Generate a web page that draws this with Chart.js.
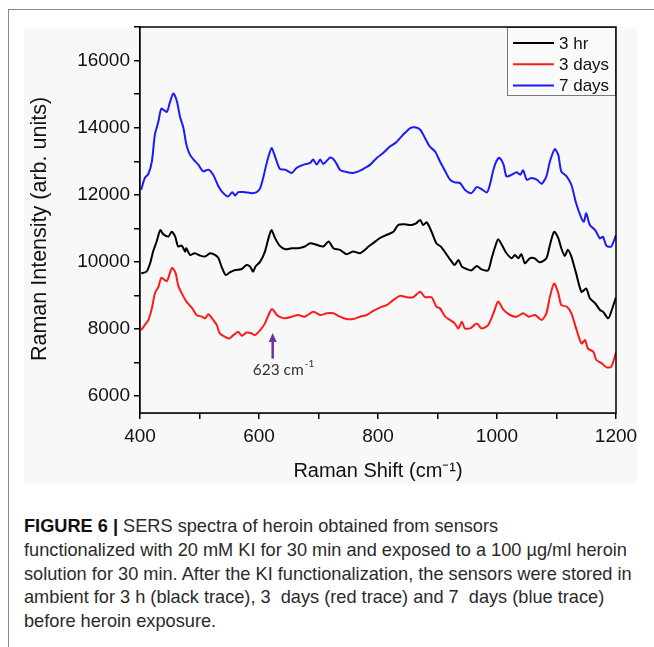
<!DOCTYPE html>
<html>
<head>
<meta charset="utf-8">
<script src="https://cdn.jsdelivr.net/npm/chart.js@4.4.1/dist/chart.umd.min.js"></script>
<style>
  html, body { margin:0; padding:0; background:#fff; }
  body { width:654px; height:647px; position:relative; overflow:hidden; }
  #topline { position:absolute; left:8px; top:9px; width:646px; height:0; border-top:1.5px solid #8a8a8a; }
  #leftline { position:absolute; left:8px; top:9px; width:0; height:638px; border-left:1.5px solid #8a8a8a; }
  #panel { position:absolute; left:24px; top:27px; width:613px; height:457px; background:#f8f8f8; }
  #wrap { position:absolute; left:24px; top:17px; width:613px; height:467px; }
  #caption { position:absolute; left:24px; top:515px; width:628px; font-family:"Liberation Sans", Arial, sans-serif; font-size:18.2px; line-height:23.8px; color:#2a2a2a; white-space:nowrap; }
  #caption b { color:#111; }
</style>
</head>
<body>
<div id="topline"></div>
<div id="leftline"></div>
<div id="panel"></div>
<div id="wrap"><canvas id="c"></canvas></div>
<div id="caption"><b>FIGURE 6 |</b> SERS spectra of heroin obtained from sensors<br>functionalized with 20 mM KI for 30 min and exposed to a 100 µg/ml heroin<br>solution for 30 min. After the KI functionalization, the sensors were stored in<br>ambient for 3 h (black trace), 3&nbsp; days (red trace) and 7&nbsp; days (blue trace)<br>before heroin exposure.</div>
<script>
// ---- data (Raman shift in cm-1, intensity in arb. units) ----
const seriesNames = ["3 hr", "3 days", "7 days"];
const seriesColors = ["#000000", "#ff1a1a", "#1a1aff"];

const shift3hr = [402,411,417,422,428,434,439,448,453,459,464,470,476,478,484,492,501,509,518,526,532,537,544,551,560,571,579,585,590,594,602,610,616,621,627,635,644,655,666,677,686,697,708,717,725,736,747,758,770,778,784,792,803,815,826,834,845,856,864,871,876,882,890,898,906,915,921,929,935,941,950,957,966,974,985,991,997,1002,1008,1016,1025,1030,1036,1041,1047,1055,1063,1072,1083,1089,1096,1103,1108,1114,1119,1125,1133,1142,1150,1156,1165,1173,1178,1187,1192,1200];
const int3hr = [9660,9710,9960,10310,10610,10950,10830,10760,10900,10760,10460,10490,10310,10410,10210,10260,10190,10160,10260,10210,10110,9860,9610,9690,9760,9790,9910,9860,9710,9860,10010,10310,10710,10950,10710,10480,10380,10410,10410,10460,10560,10510,10460,10610,10410,10360,10230,10310,10260,10360,10460,10560,10710,10810,10900,11100,11120,11100,11150,11250,11100,11180,10900,10560,10450,10230,10080,9910,10060,9860,9780,9750,9880,9780,9750,10110,10460,10680,10510,10260,10110,10210,10110,10230,9960,10110,10110,9990,10110,10510,10900,10710,10410,10180,10360,10160,9660,9110,9210,8920,8770,8570,8520,8320,8520,8950];

const shift3days = [402,408,414,420,425,431,436,445,450,454,460,464,470,478,487,495,504,509,515,521,529,534,543,550,557,565,571,579,588,593,602,610,616,622,630,638,644,655,666,677,691,703,714,725,736,747,758,770,781,792,803,815,826,837,848,859,871,879,890,898,904,913,921,929,935,941,946,955,966,974,985,994,1002,1011,1022,1033,1044,1053,1064,1075,1083,1089,1096,1103,1108,1117,1125,1133,1142,1148,1153,1162,1167,1176,1184,1192,1200];
const int3days = [7970,8120,8270,8620,9070,9260,9530,9430,9660,9830,9660,9310,9070,8820,8640,8420,8370,8320,8440,8320,8120,7870,7770,7720,7820,7920,7800,7900,7870,7820,7970,8170,8420,8600,8420,8340,8320,8370,8420,8370,8520,8420,8470,8470,8370,8300,8300,8370,8420,8540,8640,8720,8870,8990,8950,8950,9110,8950,8950,8670,8620,8370,8270,8170,8020,8220,8020,8020,8170,8020,8120,8470,8820,8570,8420,8370,8470,8370,8420,8270,8470,8970,9360,9070,8720,8670,8470,8020,7570,7670,7420,7320,7080,6980,6860,6880,7300];

const shift7days = [402,408,414,420,425,431,436,445,450,456,462,467,473,478,484,490,498,506,515,523,532,540,548,555,560,565,576,588,596,602,607,613,621,627,635,644,655,663,675,686,691,697,703,708,720,728,736,747,758,770,778,787,798,809,820,829,837,845,854,862,871,879,887,896,904,913,921,929,938,946,957,966,974,983,988,994,999,1004,1011,1016,1025,1033,1039,1044,1050,1058,1067,1075,1083,1089,1097,1103,1108,1117,1125,1133,1142,1146,1150,1156,1165,1173,1178,1184,1192,1200];
const int7days = [12150,12500,12620,13000,13790,14190,14570,14470,14740,15020,14790,14340,13990,13490,13190,13050,12900,12700,12750,12600,12250,12050,11950,12080,11980,12080,12080,12050,12080,12200,12500,12950,13390,13140,12770,12750,12650,12800,12900,12950,13050,12900,13050,12920,13110,13000,12750,12680,12650,12720,12800,12900,13100,13250,13440,13540,13690,13840,13990,14010,13940,13690,13440,13290,13000,12700,12450,12370,12350,12150,12050,12230,12170,12070,12300,12750,13000,13100,12900,12550,12600,12670,12600,12730,12450,12500,12450,12330,12550,13000,13360,13190,12700,12550,12300,11750,11300,11200,11450,11100,10950,10700,10750,10480,10460,10800];

const xTickValues = [400,500,600,700,800,900,1000,1100,1200];
const xTickLabels = ["400","","600","","800","","1000","","1200"];
const yTickValues = [6000,7000,8000,9000,10000,11000,12000,13000,14000,15000,16000,17000];
const yTickLabels = ["6000","","8000","","10000","","12000","","14000","","16000",""];

const annotShift = [623];
const annotIntensity = [7880, 7120, 6780]; // arrow tip, arrow tail, label
const annotLabel = ["623 cm", "-1"];
const yTitleText = "Raman Intensity (arb. units)";

// ---- build ----
function pts(xs, ys){ return xs.map((v,i)=>({x:v, y:ys[i]})); }
const shifts = [shift3hr, shift3days, shift7days];
const ints = [int3hr, int3days, int7days];

const overlay = {
  id:'overlay',
  beforeDatasetsDraw(chart){
    const {ctx, chartArea:a} = chart;
    ctx.save();
    ctx.fillStyle = '#f8f8f8';
    ctx.fillRect(a.left, a.top, a.right-a.left, a.bottom-a.top);
    ctx.restore();
  },
  afterDatasetsDraw(chart){
    const {ctx, chartArea:a, scales} = chart;
    const x = scales.x, y = scales.y;
    ctx.save();
    // legend
    const bw = 109, bh = 69;
    const bx = a.right - bw, by = a.top;
    ctx.fillStyle = '#fafafa';
    ctx.fillRect(bx, by, bw, bh);
    ctx.strokeStyle = '#7a7a7a'; ctx.lineWidth = 1;
    ctx.strokeRect(bx+0.5, by+0.5, bw-1, bh-1);
    // frame
    ctx.strokeStyle = '#000'; ctx.lineWidth = 1.5;
    ctx.strokeRect(a.left, a.top, a.right-a.left, a.bottom-a.top);
    ctx.font = '17px "Liberation Sans", Arial, sans-serif';
    ctx.textBaseline = 'middle'; ctx.textAlign = 'left';
    seriesNames.forEach((n,i)=>{
      const ry = by + 16 + i*21.3;
      ctx.strokeStyle = seriesColors[i]; ctx.lineWidth = 2;
      ctx.beginPath(); ctx.moveTo(bx+6, ry); ctx.lineTo(bx+47, ry); ctx.stroke();
      ctx.fillStyle = '#111';
      ctx.fillText(n, bx+52, ry+1);
    });
    // annotation arrow
    const ax = x.getPixelForValue(annotShift[0]);
    const tipY = y.getPixelForValue(annotIntensity[0]);
    const tailY = y.getPixelForValue(annotIntensity[1]);
    ctx.strokeStyle = '#7030a0'; ctx.fillStyle = '#7030a0'; ctx.lineWidth = 2.5;
    ctx.beginPath(); ctx.moveTo(ax, tailY); ctx.lineTo(ax, tipY+7); ctx.stroke();
    ctx.beginPath(); ctx.moveTo(ax, tipY); ctx.lineTo(ax-4, tipY+9); ctx.lineTo(ax+4, tipY+9); ctx.closePath(); ctx.fill();
    // annotation label
    const ly = y.getPixelForValue(annotIntensity[2]);
    ctx.fillStyle = '#333';
    ctx.font = '15.5px Lato, "Open Sans", sans-serif';
    ctx.textBaseline = 'middle'; ctx.textAlign = 'left';
    const lx = ax - 20;
    ctx.fillText(annotLabel[0], lx, ly);
    const w = ctx.measureText(annotLabel[0]).width;
    ctx.font = '10px Lato, "Open Sans", sans-serif';
    ctx.fillText(annotLabel[1], lx + w + 1, ly - 6);
    // y axis title
    ctx.save();
    ctx.translate(16, (a.top + a.bottom)/2 + 9);
    ctx.rotate(-Math.PI/2);
    ctx.fillStyle = '#111';
    ctx.font = '21.5px "Liberation Sans", Arial, sans-serif';
    ctx.textAlign = 'center'; ctx.textBaseline = 'middle';
    ctx.fillText(yTitleText, 0, 0);
    ctx.restore();
    ctx.restore();
  }
};

new Chart(document.getElementById('c'), {
  type: 'line',
  data: {
    datasets: seriesNames.map((n,i)=>({
      label: n,
      data: pts(shifts[i], ints[i]),
      borderColor: seriesColors[i],
      borderWidth: 2,
      pointRadius: 0,
      tension: 0.25,
      fill: false
    }))
  },
  options: {
    responsive: true,
    maintainAspectRatio: false,
    animation: false,
    devicePixelRatio: 1,
    layout: { padding: { top: 10, right: 21, left: 0, bottom: 0 } },
    plugins: { legend: { display: false }, tooltip: { enabled: false } },
    scales: {
      x: {
        type: 'linear', min: 400, max: 1200,
        afterFit(s){ s.height = 71; s.paddingLeft = 0; s.paddingRight = 0; },
        afterBuildTicks(s){ s.ticks = xTickValues.map(v=>({value:v})); },
        ticks: {
          autoSkip: false, maxRotation: 0, padding: 6, color: '#111',
          font: { family: '"Liberation Sans", Arial, sans-serif', size: 19 },
          callback(v){ const i = xTickValues.indexOf(v); return i >= 0 ? xTickLabels[i] : ''; }
        },
        grid: { drawOnChartArea: false, drawTicks: true, tickLength: 6, color: '#000', lineWidth: 1.5 },
        border: { display: true, color: '#000', width: 1.5 },
        title: { display: true, text: 'Raman Shift (cm\u207B\u00B9)', color: '#111',
          font: { family: '"Liberation Sans", Arial, sans-serif', size: 20 }, padding: { top: 0, bottom: 1 } }
      },
      y: {
        type: 'linear', min: 5500, max: 17000,
        afterFit(s){ s.width = 116; s.paddingTop = 0; s.paddingBottom = 0; },
        afterBuildTicks(s){ s.ticks = yTickValues.map(v=>({value:v})); },
        ticks: {
          autoSkip: false, padding: 4, color: '#111',
          font: { family: '"Liberation Sans", Arial, sans-serif', size: 19 },
          callback(v){ const i = yTickValues.indexOf(v); return i >= 0 ? yTickLabels[i] : ''; }
        },
        grid: { drawOnChartArea: false, drawTicks: true, tickLength: 6, color: '#000', lineWidth: 1.5 },
        border: { display: true, color: '#000', width: 1.5 },
        title: { display: false }
      }
    }
  },
  plugins: [overlay]
});
</script>
</body>
</html>
